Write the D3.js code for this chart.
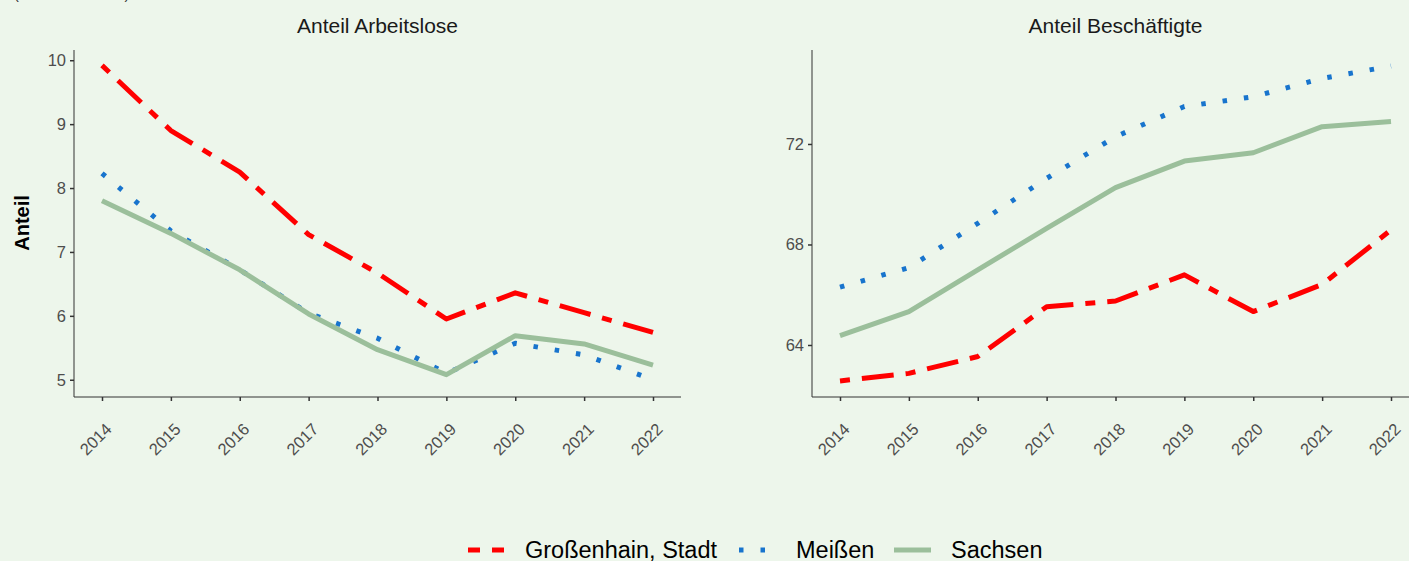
<!DOCTYPE html>
<html>
<head>
<meta charset="utf-8">
<script src="https://cdn.jsdelivr.net/npm/d3@7"></script>
<style>
  body { margin: 0; background: #edf6eb; }
  svg { display: block; font-family: "Liberation Sans", Arial, sans-serif; }
</style>
</head>
<body>
<svg id="chart" width="1409" height="561"></svg>
<script>
// Jahre
const years = [2014, 2015, 2016, 2017, 2018, 2019, 2020, 2021, 2022];

// Anteil Arbeitslose
const arbGrossenhain = [9.92, 8.9, 8.25, 7.27, 6.67, 5.95, 6.36, 6.05, 5.74];
const arbMeissen = [8.23, 7.33, 6.72, 6.04, 5.65, 5.1, 5.57, 5.39, 5.0];
const arbSachsen = [7.8, 7.29, 6.72, 6.03, 5.47, 5.08, 5.69, 5.56, 5.23];

// Anteil Beschäftigte
const besGrossenhain = [62.57, 62.87, 63.54, 65.52, 65.75, 66.79, 65.33, 66.41, 68.58];
const besMeissen = [66.3, 67.08, 68.84, 70.63, 72.29, 73.49, 73.88, 74.61, 75.1];
const besSachsen = [64.37, 65.33, 66.99, 68.64, 70.26, 71.32, 71.65, 72.69, 72.89];

const arbTicks = [5, 6, 7, 8, 9, 10];
const besTicks = [64, 68, 72];

const seriesNames = ["Großenhain, Stadt", "Meißen", "Sachsen"];
const seriesColors = ["#ff0000", "#1874cd", "#9bbf9b"];
const seriesDash = ["10,12,32,12", "4.5,17", null];

const svg = d3.select("#chart");

// ganz oben abgeschnittener Untertitel
svg.append("text")
    .attr("x", 14)
    .attr("y", -1)
    .attr("font-size", 14.5)
    .attr("fill", "#333")
    .text("(Anteil in Prozent)");

function panelDraw(x0, x1, title, values, yDomain, ticks) {
    const top = 50, bottom = 397;
    const g = svg.append("g");

    const x = d3.scaleLinear()
        .domain([2014, 2022])
        .range([x0 + 28, x1 - 28]);
    const y = d3.scaleLinear()
        .domain(yDomain)
        .range([bottom, top]);

    // Titel
    g.append("text")
        .attr("x", (x0 + x1) / 2)
        .attr("y", 33)
        .attr("text-anchor", "middle")
        .attr("font-size", 21)
        .attr("fill", "#1a1a1a")
        .text(title);

    // Linien
    const line = d3.line()
        .x((d, i) => x(years[i]))
        .y(d => y(d));

    values.forEach(function (v, k) {
        g.append("path")
            .datum(v)
            .attr("d", line)
            .attr("fill", "none")
            .attr("stroke", seriesColors[k])
            .attr("stroke-width", 5)
            .attr("stroke-linejoin", "round")
            .attr("stroke-dasharray", seriesDash[k]);
    });

    // y-Achse
    const yAxis = g.append("g")
        .attr("transform", `translate(${x0},0)`)
        .call(d3.axisLeft(y).tickValues(ticks).tickFormat(d3.format("d")).tickSize(4).tickPadding(4).tickSizeOuter(0));
    yAxis.select(".domain").attr("stroke", "#333").attr("stroke-width", 1).attr("d", `M0,${top}V${bottom}`);
    yAxis.selectAll(".tick line").attr("stroke", "#333").attr("stroke-width", 1.5);
    yAxis.selectAll(".tick text")
        .attr("font-size", 16.5)
        .attr("font-family", "Liberation Sans, Arial, sans-serif")
        .attr("fill", "#4d4d4d");

    // x-Achse
    const xAxis = g.append("g")
        .attr("transform", `translate(0,${bottom})`)
        .call(d3.axisBottom(x).tickValues(years).tickFormat(d3.format("d")).tickSize(4).tickSizeOuter(0));
    xAxis.select(".domain").attr("stroke", "#333").attr("stroke-width", 1).attr("d", `M${x0},0H${x1}`);
    xAxis.selectAll(".tick line").attr("stroke", "#333").attr("stroke-width", 1.5);
    xAxis.selectAll(".tick text")
        .attr("font-size", 16.5)
        .attr("font-family", "Liberation Sans, Arial, sans-serif")
        .attr("fill", "#4d4d4d")
        .attr("text-anchor", "end")
        .attr("y", 0)
        .attr("dy", "0.71em")
        .attr("transform", "translate(2,25) rotate(-45)");
}

panelDraw(74, 681, "Anteil Arbeitslose",
    [arbGrossenhain, arbMeissen, arbSachsen], [4.73, 10.16], arbTicks);
panelDraw(812, 1419, "Anteil Beschäftigte",
    [besGrossenhain, besMeissen, besSachsen], [61.93, 75.74], besTicks);

// y-Achsentitel
svg.append("text")
    .attr("transform", "translate(29,223) rotate(-90)")
    .attr("text-anchor", "middle")
    .attr("font-size", 20)
    .attr("font-weight", "bold")
    .attr("fill", "#000")
    .text("Anteil");

// Legende
const legend = svg.append("g").attr("transform", "translate(0,550)");
const keyX = [468, 739, 894];
const textX = [525, 796, 951];

seriesNames.forEach(function (name, k) {
    legend.append("line")
        .attr("x1", keyX[k])
        .attr("x2", keyX[k] + 37)
        .attr("y1", 0)
        .attr("y2", 0)
        .attr("stroke", seriesColors[k])
        .attr("stroke-width", 5)
        .attr("stroke-dasharray", k === 0 ? "12,12" : (k === 1 ? "4.5,17" : null));
    legend.append("text")
        .attr("x", textX[k])
        .attr("y", 7.5)
        .attr("font-size", 23.5)
        .attr("fill", "#000")
        .text(name);
});
</script>
</body>
</html>
